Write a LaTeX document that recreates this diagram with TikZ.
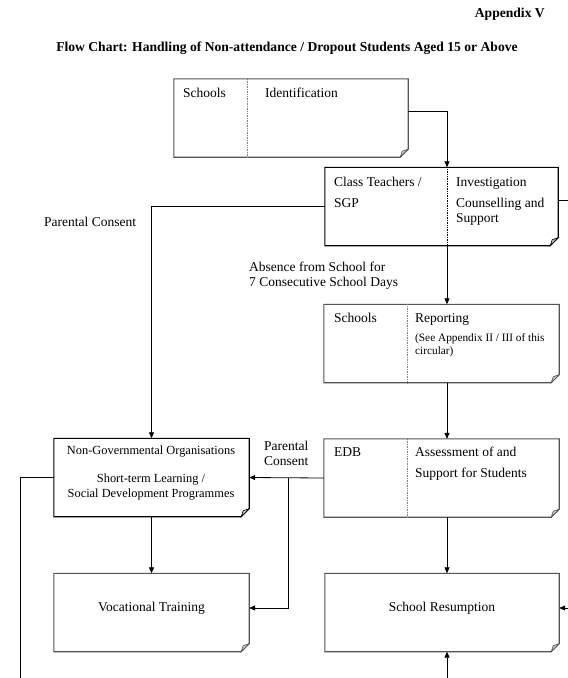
\documentclass[tikz,border=0pt]{standalone}
\usepackage{fontspec}
\setmainfont{Liberation Serif}
\usetikzlibrary{arrows.meta,calc}

% folded-corner box outline drawn round an empty node
\newcommand{\dogear}[2][gray!65!black]{%
  \draw[#1,line width=1.1pt,fill=white] (#2.north west) -- (#2.north east) -- ($(#2.south east)+(0,-8)$) -- ($(#2.south east)+(-8,0)$) -- (#2.south west) -- cycle;
  \filldraw[draw=#1,fill=gray!40,line width=0.6pt] ($(#2.south east)+(0,-8)$) -- ($(#2.south east)+(-6,-6)$) -- ($(#2.south east)+(-8,0)$) -- cycle;}

\begin{document}
\begin{tikzpicture}[x=1pt,y=1pt,yscale=-1,
  box/.style={minimum width=#1,minimum height=78,inner sep=0},
  txt/.style={font=\fontsize{13.5}{15}\selectfont,inner sep=0,align=left},
  smalltxt/.style={font=\fontsize{11.3}{13}\selectfont,inner sep=0,align=left},
  headtxt/.style={font=\bfseries\fontsize{13.6}{15}\selectfont,inner sep=0},
  divider/.style={densely dotted,gray,line width=0.7pt},
  line/.style={line width=0.8pt},
  link/.style={line,-{Triangle[length=6pt,width=5pt]}}]
\useasboundingbox (0,0) rectangle (568,678);

% Text Node
\node[headtxt,anchor=east] (appx) at (545,14) {Appendix V};
\node[headtxt] (title) at (287,48) {Flow Chart: Handling of Non-attendance / Dropout Students Aged 15 or Above};

%Shape: boxes
\node[box=234] (ident) at (291,118) {};
\node[box=233] (invest) at (441.5,206.5) {};
\node[box=235] (report) at (441.5,343.5) {};
\node[box=235] (assess) at (441.5,478) {};
\node[box=195] (ngo) at (151.5,477.5) {};
\node[box=195] (voc) at (151.5,612.5) {};
\node[box=234] (resume) at (442,612.5) {};
\dogear{ident}
\dogear[black]{invest}
\dogear{report}
\dogear{assess}
\dogear[black]{ngo}
\dogear{voc}
\dogear{resume}

%Straight Lines: dividers
\draw[divider] (247,0 |- ident.north) -- (247,0 |- ident.south);
\draw[divider,black] (447,0 |- invest.north) -- (447,0 |- invest.south);
\draw[divider] (407,0 |- report.north) -- (407,0 |- report.south);
\draw[divider] (407,0 |- assess.north) -- (407,0 |- assess.south);

% Text Node
\node[txt,anchor=north west] (identa) at (183,88) {Schools};
\node[txt,anchor=north west] (identb) at (265,88) {Identification};
\node[txt,anchor=north west] (investa) at (334,177) {Class Teachers /\\[6pt]SGP};
\node[txt,anchor=north west] (investb) at (456,177) {Investigation\\[6pt]Counselling and\\Support};
\node[txt,anchor=north west] (reporta) at (334,313) {Schools};
\node[txt,anchor=north west] (reportb) at (415,313) {Reporting};
\node[smalltxt,anchor=north west] (reportc) at (415,333) {(See Appendix II / III of this\\circular)};
\node[txt,anchor=north west] (assessa) at (334,447) {EDB};
\node[txt,anchor=north west] (assessb) at (415,447) {Assessment of and\\[6pt]Support for Students};
\node[txt,align=center,anchor=north,font=\fontsize{12.4}{15}\selectfont] (ngotxt) at (151,446) {Non-Governmental Organisations\\[13pt]Short-term Learning /\\Social Development Programmes};
\node[txt] (voctxt) at (151.5,608) {Vocational Training};
\node[txt] (resumetxt) at (442,608) {School Resumption};
\node[txt,anchor=north west] (consent) at (44,217) {Parental Consent};
\node[txt,anchor=north west] (absence) at (249,262) {Absence from School for\\7 Consecutive School Days};
\node[txt,anchor=north west] (consentb) at (264,441) {Parental\\Consent};

%Straight Lines: connectors
\coordinate (spine) at (447,0);
\coordinate (outR) at (568,200);
\coordinate (inR) at (568,608);
\coordinate (outL) at (20,678);
\coordinate (inB) at (447,678);
\coordinate (fork) at (288,608);
\draw[link] ($(ident.east)+(0,-7)$) -| (invest.north -| spine);
\draw[link] (invest.south -| spine) -- (report.north -| spine);
\draw[link] (report.south -| spine) -- (assess.north -| spine);
\draw[link] (assess.south -| spine) -- (resume.north -| spine);
\draw[link] (inB) -- (resume.south -| spine);
\draw[link] (invest.west) -| (ngo.north);
\draw[line] (outR -| invest.east) -- (outR);
\draw[link] (inR) -- (inR -| resume.east);
\draw[link] (assess.west) -- (ngo.east);
\draw[link] (assess.west -| fork) -- (fork) -- (fork -| voc.east);
\draw[link] (ngo.south) -- (voc.north);
\draw[line] (ngo.west) -| (outL);

\end{tikzpicture}
\end{document}
